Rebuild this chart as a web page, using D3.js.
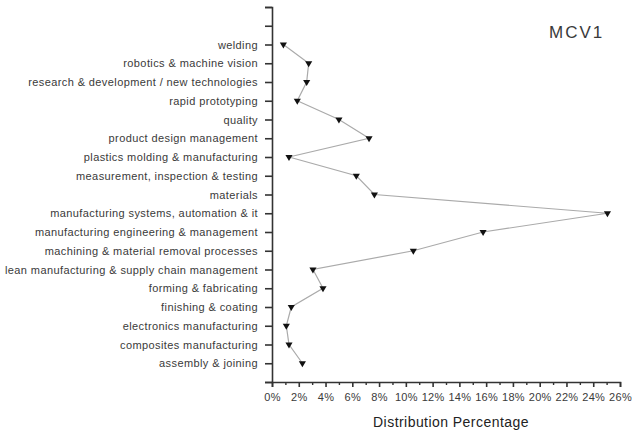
<!DOCTYPE html>
<html>
<head>
<meta charset="utf-8">
<script src="https://cdn.jsdelivr.net/npm/d3@7"></script>
<style>
  html, body { margin: 0; padding: 0; background: #fff; }
  svg { display: block; }
  text { font-family: "Liberation Sans", Arial, sans-serif; }
</style>
</head>
<body>
<svg id="chart" width="632" height="432"></svg>
<script>
// Categories, bottom to top
const categories = [
  "assembly & joining",
  "composites manufacturing",
  "electronics manufacturing",
  "finishing & coating",
  "forming & fabricating",
  "lean manufacturing & supply chain management",
  "machining & material removal processes",
  "manufacturing engineering & management",
  "manufacturing systems, automation & it",
  "materials",
  "measurement, inspection & testing",
  "plastics molding & manufacturing",
  "product design management",
  "quality",
  "rapid prototyping",
  "research & development / new technologies",
  "robotics & machine vision",
  "welding"
];
// Distribution percentage (%) for MCV1
const mcv1 = [2.27, 1.27, 1.07, 1.44, 3.81, 3.06, 10.56, 15.77, 25.06, 7.65, 6.3, 1.27, 7.25, 5.0, 1.89, 2.59, 2.74, 0.85];
const xTicks = [0, 2, 4, 6, 8, 10, 12, 14, 16, 18, 20, 22, 24, 26];
const xMinorTicks = [1, 3, 5, 7, 9, 11, 13, 15, 17, 19, 21, 23, 25];
const seriesName = "MCV1";
const xTitle = "Distribution Percentage";

const svg = d3.select("#chart");
const mLeft = 272, mRight = 620, mTop = 7, mBottom = 382;

const x = d3.scaleLinear().domain([0, 26]).range([mLeft, mRight]);
// slot positions: 0 = axis bottom, 1..18 = categories, 19..20 empty
const y = d3.scaleLinear().domain([0, 20]).range([mBottom, mTop]);
const slots = d3.range(0, 21);

const axisColor = "#333";
const textColor = "#3a3a3a";

// Y axis
const yAxis = d3.axisLeft(y)
  .tickValues(slots)
  .tickSize(7)
  .tickPadding(7)
  .tickFormat(d => (d >= 1 && d <= categories.length) ? categories[d - 1] : "");
const gy = svg.append("g").attr("transform", `translate(${mLeft},0)`).call(yAxis);
gy.select(".domain").attr("stroke", axisColor).attr("stroke-width", 1.6);
gy.selectAll(".tick line").attr("stroke", axisColor).attr("stroke-width", 1.6);
gy.selectAll(".tick text").attr("fill", textColor)
  .style("font-size", "11px").style("letter-spacing", "0.4px");

// X axis
const xAxis = d3.axisBottom(x)
  .tickValues(xTicks)
  .tickSize(5)
  .tickPadding(6)
  .tickFormat(d => d + "%");
const gx = svg.append("g").attr("transform", `translate(0,${mBottom})`).call(xAxis);
gx.select(".domain").attr("stroke", axisColor).attr("stroke-width", 1.6);
gx.selectAll(".tick line").attr("stroke", axisColor).attr("stroke-width", 1.6);
gx.selectAll(".tick text").attr("fill", textColor)
  .style("font-size", "11px").style("letter-spacing", "0.3px");

const xMinor = d3.axisBottom(x).tickValues(xMinorTicks).tickSize(3).tickFormat("");
const gxm = svg.append("g").attr("transform", `translate(0,${mBottom})`).call(xMinor);
gxm.select(".domain").remove();
gxm.selectAll(".tick line").attr("stroke", axisColor).attr("stroke-width", 1.4);

// Line
const pts = mcv1.map((v, i) => ({ v, slot: i + 1 }));
const line = d3.line().x(d => x(d.v)).y(d => y(d.slot));
svg.append("path")
  .datum(pts)
  .attr("d", line)
  .attr("fill", "none")
  .attr("stroke", "#aaaaaa")
  .attr("stroke-width", 1.2);

// Markers: down-pointing triangles
const tri = d3.symbol().type(d3.symbolTriangle).size(22);
svg.append("g").selectAll("path")
  .data(pts)
  .join("path")
  .attr("d", tri)
  .attr("transform", d => `translate(${x(d.v)},${y(d.slot)}) rotate(180)`)
  .attr("fill", "#111");

// Legend / series label
svg.append("text")
  .attr("x", 549).attr("y", 38)
  .attr("text-anchor", "start")
  .attr("fill", textColor)
  .style("font-size", "17px")
  .style("letter-spacing", "2px")
  .text(seriesName);

// X title
svg.append("text")
  .attr("x", 451).attr("y", 427)
  .attr("text-anchor", "middle")
  .attr("fill", "#222")
  .style("font-size", "14px")
  .style("letter-spacing", "0.45px")
  .text(xTitle);
</script>
</body>
</html>
